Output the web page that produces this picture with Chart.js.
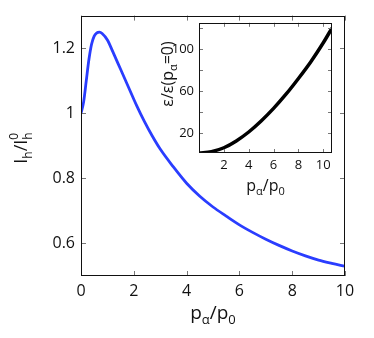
<!DOCTYPE html>
<html>
<head>
<meta charset="utf-8">
<script src="https://cdn.jsdelivr.net/npm/chart.js@4.4.1/dist/chart.umd.min.js"></script>
<style>
  html, body { margin: 0; padding: 0; background: #fff; }
  #wrap { position: relative; width: 374px; height: 338px; }
  #mainChart { position: absolute; left: 0; top: 0; }
  #insetChart { position: absolute; left: 140px; top: 10px; }
</style>
</head>
<body>
<div id="wrap">
  <canvas id="mainChart" width="374" height="338"></canvas>
  <canvas id="insetChart" width="200" height="190"></canvas>
</div>
<script>
// main panel: I_h / I_h^0 vs p_alpha / p_0
const mainX = [0, 0.1, 0.2, 0.3, 0.4, 0.5, 0.6, 0.7, 0.8, 1.0, 1.2, 1.5, 1.8, 2.1, 2.4, 2.7, 3.0, 3.5, 4.0, 4.5, 5.0, 5.5, 6.0, 6.5, 7.0, 7.5, 8.0, 8.5, 9.0, 9.5, 10];
const mainY = [1, 1.035, 1.1, 1.165, 1.212, 1.237, 1.247, 1.249, 1.245, 1.225, 1.19, 1.135, 1.08, 1.025, 0.975, 0.93, 0.89, 0.835, 0.785, 0.745, 0.712, 0.684, 0.657, 0.634, 0.613, 0.594, 0.577, 0.562, 0.549, 0.539, 0.53];
const mainXTicks = [0, 2, 4, 6, 8, 10];
const mainYTicks = [0.6, 0.8, 1, 1.2];

// inset: epsilon / epsilon(p_alpha = 0)
const insetX = [0, 1, 2, 3, 4, 5, 6, 7, 8, 9, 10, 10.7];
const insetY = [1, 2.3, 6, 12.5, 21, 31.5, 43.5, 57, 72, 88, 106, 120];
const insetXTicks = [2, 4, 6, 8, 10];
const insetYTicks = [20, 40, 60, 80, 100, 120];
const insetYLabels = [20, 60, 100];

const FONT = "'Open Sans', 'DejaVu Sans', sans-serif";
const TEXT = '#111';

// text with sub/superscripts; a part with stack:true does not advance the pen
function drawRich(ctx, parts, x, y, rot) {
  ctx.save();
  ctx.translate(x, y);
  ctx.rotate(rot || 0);
  ctx.fillStyle = TEXT;
  ctx.textBaseline = 'alphabetic';
  ctx.textAlign = 'left';
  let w = 0;
  parts.forEach(p => {
    ctx.font = p.s + 'px ' + FONT;
    p.w = ctx.measureText(p.t).width;
    if (!p.stack) w += p.w;
  });
  let cx = -w / 2;
  parts.forEach(p => {
    ctx.font = p.s + 'px ' + FONT;
    ctx.fillText(p.t, cx, p.dy || 0);
    if (!p.stack) cx += p.w;
  });
  ctx.restore();
}

const frameTicks = {
  id: 'frameTicks',
  afterDatasetsDraw(chart, args, opts) {
    const { ctx, chartArea: a, scales: { x, y } } = chart;
    const L = opts.len;
    ctx.save();
    ctx.strokeStyle = '#777';
    ctx.lineWidth = 1;
    ctx.beginPath();
    x.ticks.forEach(t => {
      const px = Math.round(x.getPixelForValue(t.value)) + 0.5;
      ctx.moveTo(px, a.bottom); ctx.lineTo(px, a.bottom - L);
      ctx.moveTo(px, a.top); ctx.lineTo(px, a.top + L);
    });
    y.ticks.forEach(t => {
      const py = Math.round(y.getPixelForValue(t.value)) + 0.5;
      ctx.moveTo(a.left, py); ctx.lineTo(a.left + L, py);
      ctx.moveTo(a.right, py); ctx.lineTo(a.right - L, py);
    });
    ctx.stroke();
    ctx.strokeStyle = '#111';
    ctx.strokeRect(Math.round(a.left) + 0.5, Math.round(a.top) + 0.5, Math.round(a.width) - 1, Math.round(a.height) - 1);
    ctx.restore();
  },
  afterDraw(chart, args, opts) {
    if (opts.titles) opts.titles(chart.ctx, chart.chartArea);
  }
};

function axisOpts(min, max, ticks, size, pad, fit, labelCb) {
  return {
    type: 'linear',
    min, max,
    grid: { display: false, drawTicks: false },
    border: { display: false },
    afterBuildTicks: s => { s.ticks = ticks.map(v => ({ value: v })); },
    afterFit: fit,
    ticks: {
      color: TEXT,
      font: { size, family: FONT },
      padding: pad,
      maxRotation: 0,
      autoSkip: false,
      callback: labelCb || (v => String(v))
    }
  };
}

new Chart(document.getElementById('mainChart').getContext('2d'), {
  type: 'line',
  data: {
    datasets: [{
      data: mainX.map((x, i) => ({ x, y: mainY[i] })),
      borderColor: '#2a3dff',
      borderWidth: 2.8,
      pointRadius: 0,
      cubicInterpolationMode: 'monotone',
      fill: false
    }]
  },
  options: {
    responsive: false,
    animation: false,
    devicePixelRatio: 1,
    layout: { padding: { left: 0, top: 12, right: 29, bottom: 0 } },
    plugins: {
      legend: { display: false },
      tooltip: { enabled: false },
      frameTicks: {
        len: 5,
        titles: (ctx, a) => {
          drawRich(ctx, [
            { t: 'p', s: 19 }, { t: 'α', s: 13, dy: 5 }, { t: '/p', s: 19 }, { t: '0', s: 13, dy: 5 }
          ], (a.left + a.right) / 2, 319);
          drawRich(ctx, [
            { t: 'I', s: 18 }, { t: 'h', s: 12, dy: 5 }, { t: '/I', s: 18 },
            { t: '0', s: 12, dy: -9, stack: true }, { t: 'h', s: 12, dy: 5 }
          ], 27, 148, -Math.PI / 2);
        }
      }
    },
    scales: {
      x: axisOpts(0, 10, mainXTicks, 16, 6, s => { s.height = 62; }),
      y: axisOpts(0.5, 1.3, mainYTicks, 16, 6, s => { s.width = 81; })
    }
  },
  plugins: [frameTicks]
});

new Chart(document.getElementById('insetChart').getContext('2d'), {
  type: 'line',
  data: {
    datasets: [{
      data: insetX.map((x, i) => ({ x, y: insetY[i] })),
      borderColor: '#000',
      borderWidth: 3.5,
      pointRadius: 0,
      cubicInterpolationMode: 'monotone',
      fill: false
    }]
  },
  options: {
    responsive: false,
    animation: false,
    devicePixelRatio: 1,
    layout: { padding: { left: 0, top: 12, right: 8, bottom: 0 } },
    plugins: {
      legend: { display: false },
      tooltip: { enabled: false },
      frameTicks: {
        len: 4,
        titles: (ctx, a) => {
          drawRich(ctx, [
            { t: 'p', s: 16 }, { t: 'α', s: 11, dy: 4 }, { t: '/p', s: 16 }, { t: '0', s: 11, dy: 4 }
          ], (a.left + a.right) / 2, 181);
          drawRich(ctx, [
            { t: 'ε/ε(p', s: 16 }, { t: 'α', s: 11, dy: 4 }, { t: '=0)', s: 16 }
          ], 33, 64, -Math.PI / 2);
        }
      }
    },
    scales: {
      x: axisOpts(0, 10.7, insetXTicks, 13, 4, s => { s.height = 47; }),
      y: axisOpts(1, 125, insetYTicks, 13, 5, s => { s.width = 59; },
        v => insetYLabels.includes(v) ? String(v) : '')
    }
  },
  plugins: [frameTicks]
});
</script>
</body>
</html>
